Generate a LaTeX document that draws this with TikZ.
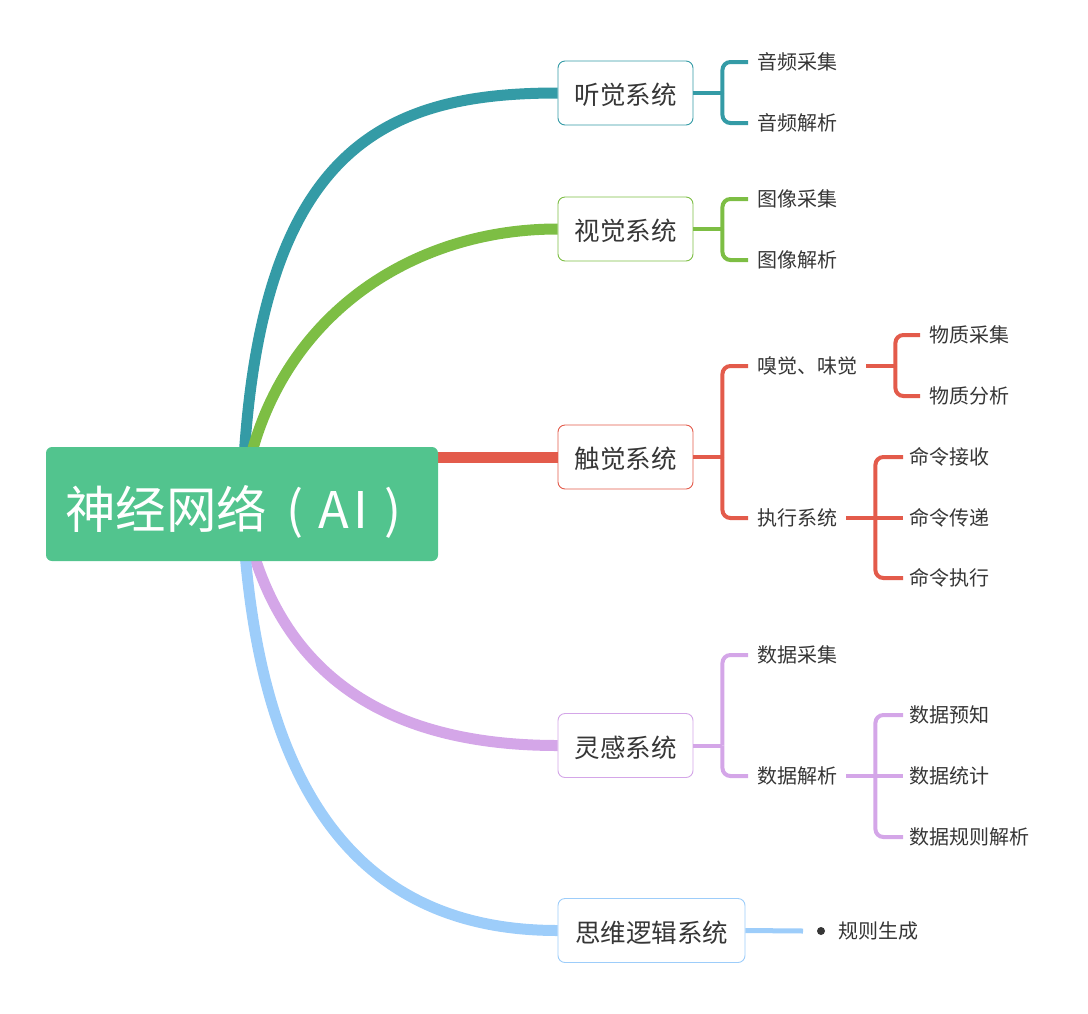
\documentclass[tikz,border=0pt]{standalone}
\usepackage{fontspec}
\newfontfamily\cjk{Noto Sans CJK SC}
\usetikzlibrary{backgrounds}
\definecolor{cteal}{HTML}{349BA6}
\definecolor{cgreen}{HTML}{7DBE44}
\definecolor{cred}{HTML}{E35B4B}
\definecolor{cpurple}{HTML}{D4A6E8}
\definecolor{cblue}{HTML}{9DCDFA}
\definecolor{croot}{HTML}{52C48E}
\definecolor{txt}{HTML}{363636}
\begin{document}
\begin{tikzpicture}[x=1pt,y=-1pt,
  rootbox/.style={fill=croot, rounded corners=6pt, minimum width=392pt, minimum height=114pt, inner sep=0pt, text=white, font=\cjk\fontsize{50.5}{56}\selectfont, text height=50pt, text depth=2pt},
  sysbox/.style={draw=#1, line width=0.9pt, fill=white, rounded corners=7pt, minimum width=135pt, minimum height=64pt, inner sep=0pt, text=txt, font=\cjk\fontsize{25.5}{30}\selectfont, text height=24pt, text depth=1pt},
  leaf/.style={anchor=west, inner sep=0pt, text=txt, font=\cjk\fontsize{20}{24}\selectfont, text height=15.6pt, text depth=0.8pt},
  branch/.style={draw=#1, line width=11pt},
  brk/.style={draw=#1, line width=4pt, rounded corners=8pt},
]
\useasboundingbox (0,0) rectangle (1088,1013);

% root
\node[rootbox] (root) at (242,504) {神经网络\makebox[56pt][c]{(}\makebox[21pt][c]{A}\makebox[34pt][c]{I}\makebox[31pt][c]{)}\kern10pt};

% systems
\node[sysbox=cteal] (hear) at (625.5,93) {听觉系统};
\node[sysbox=cgreen] (see) at (625.5,229) {视觉系统};
\node[sysbox=cred] (touch) at (625.5,457) {触觉系统};
\node[sysbox=cpurple] (insp) at (625.5,745.5) {灵感系统};
\node[sysbox=cblue, minimum width=187pt] (think) at (651.5,930.5) {思维逻辑系统};

% branches
\begin{scope}[on background layer]
\draw[branch=cteal] (root.center) .. controls (252,150) and (380,93) .. (hear.west);
\draw[branch=cgreen] (root.center) .. controls (262,330) and (400,229) .. (see.west);
\draw[branch=cred] (touch.west -| root.center) -- (touch.west);
\draw[branch=cpurple] (root.center) .. controls (275,700) and (420,745.5) .. (insp.west);
\draw[branch=cblue] (root.center) .. controls (255,820) and (380,930.5) .. (think.west);
\end{scope}

% hearing
\node[leaf] (h1) at (757,62) {音频采集};
\node[leaf] (h2) at (757,123) {音频解析};
\coordinate (hj) at ([xshift=29pt]hear.east);
\draw[brk=cteal] (hear.east) -- (hj);
\draw[brk=cteal] (hj) |- ([xshift=-9pt]h1.west);
\draw[brk=cteal] (hj) |- ([xshift=-9pt]h2.west);

% vision
\node[leaf] (s1) at (757,199) {图像采集};
\node[leaf] (s2) at (757,260) {图像解析};
\coordinate (sj) at ([xshift=29pt]see.east);
\draw[brk=cgreen] (see.east) -- (sj);
\draw[brk=cgreen] (sj) |- ([xshift=-9pt]s1.west);
\draw[brk=cgreen] (sj) |- ([xshift=-9pt]s2.west);

% touch
\node[leaf] (t1) at (757,366) {嗅觉、味觉};
\node[leaf] (t2) at (757,518) {执行系统};
\coordinate (tj) at ([xshift=29pt]touch.east);
\draw[brk=cred] (touch.east) -- (tj);
\draw[brk=cred] (tj) |- ([xshift=-9pt]t1.west);
\draw[brk=cred] (tj) |- ([xshift=-9pt]t2.west);

\node[leaf] (t11) at (929,335) {物质采集};
\node[leaf] (t12) at (929,396) {物质分析};
\coordinate (t1j) at ([xshift=38pt]t1.east);
\draw[brk=cred] ([xshift=9pt]t1.east) -- (t1j);
\draw[brk=cred] (t1j) |- ([xshift=-9pt]t11.west);
\draw[brk=cred] (t1j) |- ([xshift=-9pt]t12.west);

\node[leaf] (t21) at (909,457) {命令接收};
\node[leaf] (t22) at (909,518) {命令传递};
\node[leaf] (t23) at (909,578) {命令执行};
\coordinate (t2j) at ([xshift=38pt]t2.east);
\draw[brk=cred] ([xshift=9pt]t2.east) -- ([xshift=-6pt]t22.west);
\draw[brk=cred] (t2j) |- ([xshift=-6pt]t21.west);
\draw[brk=cred] (t2j) |- ([xshift=-6pt]t23.west);

% inspiration
\node[leaf] (i1) at (757,655) {数据采集};
\node[leaf] (i2) at (757,776) {数据解析};
\coordinate (ij) at ([xshift=29pt]insp.east);
\draw[brk=cpurple] (insp.east) -- (ij);
\draw[brk=cpurple] (ij) |- ([xshift=-9pt]i1.west);
\draw[brk=cpurple] (ij) |- ([xshift=-9pt]i2.west);

\node[leaf] (i21) at (909,715) {数据预知};
\node[leaf] (i22) at (909,776) {数据统计};
\node[leaf] (i23) at (909,837) {数据规则解析};
\coordinate (i2j) at ([xshift=38pt]i2.east);
\draw[brk=cpurple] ([xshift=9pt]i2.east) -- ([xshift=-6pt]i22.west);
\draw[brk=cpurple] (i2j) |- ([xshift=-6pt]i21.west);
\draw[brk=cpurple] (i2j) |- ([xshift=-6pt]i23.west);

% thinking
\node[leaf] (r1) at (838,931) {规则生成};
\draw[cblue, line width=5pt] (think.east) -- ([xshift=-35pt]r1.west);
\fill[txt] ([xshift=-17pt]r1.west) circle (4pt);
\end{tikzpicture}
\end{document}
